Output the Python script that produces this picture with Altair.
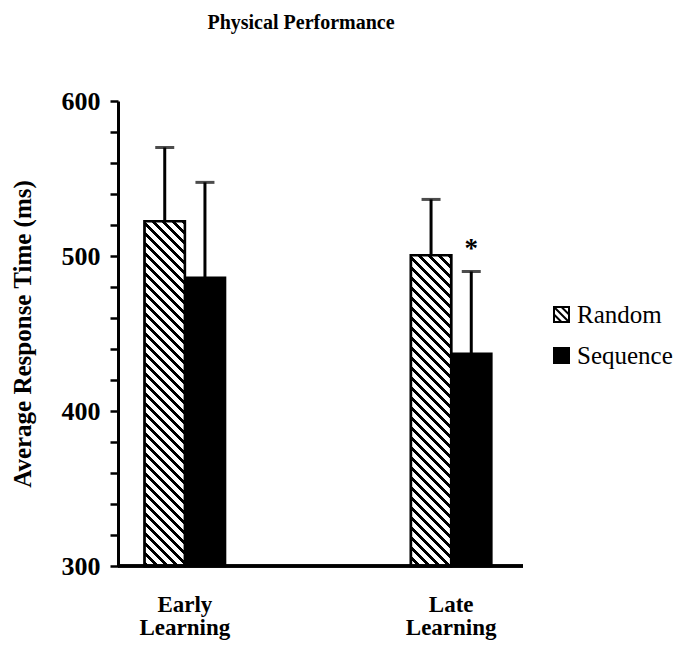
import altair as alt
import pandas as pd

# ---- data ----
PHASES = ["Early Learning", "Late Learning"]
CONDS = ["Random", "Sequence"]
phase = ["Early Learning", "Early Learning", "Late Learning", "Late Learning"]
cond = ["Random", "Sequence", "Random", "Sequence"]
mean_rt = [522.4, 486.0, 500.5, 437.0]
err_rt = [47.6, 61.5, 36.0, 53.0]
sig = ["", "", "", "*"]

Y_MIN, Y_MAX = 300, 600
Y_TICKS = list(range(300, 601, 20))

df = pd.DataFrame({"phase": phase, "cond": cond, "mean": mean_rt,
                   "err": err_rt, "sig": sig})

# ---- layout ----
PLOT_W, PLOT_H = 405, 465
X_RANGE = 400
PAD_IN, PAD_OUT = 0.698, 0.1
step = X_RANGE / (len(PHASES) - PAD_IN + 2 * PAD_OUT)
BAR_W = step * (1 - PAD_IN) / len(CONDS)
FONT = "Liberation Serif"
HATCH_D, HATCH_T = 10.0, 4.0


def hatch(h, w=BAR_W):
    """Linear gradient that renders as 45-degree '\\' stripes inside a w x h box."""
    total = w + h
    k = total / (w * w + h * h)
    stops = []
    j = 0
    while j * HATCH_D < total:
        a = j * HATCH_D / total
        b = min((j * HATCH_D + HATCH_T) / total, 1.0)
        c = min((j + 1) * HATCH_D / total, 1.0)
        stops += [alt.GradientStop(color="black", offset=a),
                  alt.GradientStop(color="black", offset=b),
                  alt.GradientStop(color="white", offset=b),
                  alt.GradientStop(color="white", offset=c)]
        j += 1
    return alt.LinearGradient(gradient="linear", stops=stops,
                              x1=1, y1=0, x2=1 - w * k, y2=h * k)


yscale = alt.Scale(domain=[Y_MIN, Y_MAX], nice=False, zero=False)
yaxis = alt.Axis(values=Y_TICKS, labelExpr="datum.value % 100 == 0 ? datum.label : ''",
                 title="Average Response Time (ms)", titleFont=FONT, titleFontSize=25,
                 titleFontWeight="bold", titleColor="black", titleX=-96, titleY=PLOT_H / 2,
                 titleAngle=270, titleAlign="center", titleBaseline="middle",
                 labelFont=FONT, labelFontSize=26, labelFontWeight="bold", labelColor="black",
                 labelPadding=10, labelOverlap=False, domainColor="black", domainWidth=3,
                 tickColor="black", tickWidth=2.5, tickSize=8, grid=False)

xenc = alt.X("phase:N", sort=PHASES,
             scale=alt.Scale(range=[0, X_RANGE], paddingInner=PAD_IN, paddingOuter=PAD_OUT),
             axis=alt.Axis(title=None, labelAngle=0, labelExpr="split(datum.label, ' ')",
                           domain=False, ticks=False, labelFont=FONT, labelFontSize=23,
                           labelFontWeight="bold", labelColor="black", labelLineHeight=23,
                           labelPadding=45, labelBaseline="alphabetic"))
xoff = alt.XOffset("cond:N", sort=CONDS, scale=alt.Scale(paddingInner=0, paddingOuter=0))

base = alt.Chart(df)

LEGEND_PATH = "M-1,-1H1V1H-1Z M-1,-1L1,1 M-1,0L0,1 M0,-1L1,0"

bars = base.mark_bar(stroke="black", strokeWidth=2.5).encode(
    x=xenc, xOffset=xoff,
    y=alt.Y("mean:Q", scale=yscale, axis=yaxis),
    y2=alt.Y2(datum=Y_MIN),
    color=alt.Color("cond:N", scale=alt.Scale(domain=CONDS, range=["white", "black"]),
                    legend=alt.Legend(title=None, orient="none", legendX=431, legendY=201,
                                      symbolType=LEGEND_PATH, symbolSize=225,
                                      symbolStrokeColor="black", symbolStrokeWidth=2,
                                      labelFont=FONT, labelFontSize=25, labelColor="black",
                                      labelOffset=3, rowPadding=15)),
)

hatch_layers = []
for p, c, m in zip(phase, cond, mean_rt):
    if c != "Random":
        continue
    h = (m - Y_MIN) / (Y_MAX - Y_MIN) * PLOT_H
    hatch_layers.append(
        base.transform_filter((alt.datum.phase == p) & (alt.datum.cond == c))
        .mark_bar(fill=hatch(h), stroke="black", strokeWidth=2.5)
        .encode(x=xenc, xOffset=xoff,
                y=alt.Y("mean:Q", scale=yscale, axis=yaxis),
                y2=alt.Y2(datum=Y_MIN))
    )

with_upper = base.transform_calculate(upper="datum.mean + datum.err")

stems = with_upper.mark_rule(color="black", strokeWidth=3).encode(
    x=xenc, xOffset=xoff,
    y=alt.Y("mean:Q", scale=yscale, axis=yaxis),
    y2="upper:Q",
)
caps = with_upper.mark_tick(color="black", thickness=3, size=19).encode(
    x=xenc, xOffset=xoff,
    y=alt.Y("upper:Q", scale=yscale, axis=yaxis),
)
stars = with_upper.mark_text(font=FONT, fontSize=27, fontWeight="bold", color="black",
                             dy=-15, baseline="alphabetic").encode(
    x=xenc, xOffset=xoff,
    y=alt.Y("upper:Q", scale=yscale, axis=yaxis),
    text="sig:N",
)
baseline = base.mark_rule(color="black", strokeWidth=3).encode(
    y=alt.Y(datum=Y_MIN, scale=yscale, axis=yaxis),
)

chart = alt.layer(bars, *hatch_layers, stems, caps, stars, baseline).properties(
    width=PLOT_W, height=PLOT_H,
    background="white",
    title=alt.TitleParams("Physical Performance", font=FONT, fontSize=20,
                          fontWeight="bold", color="black", anchor="middle",
                          dx=-19.5, offset=55),
    autosize=alt.AutoSizeParams(type="none"),
    padding={"left": 118, "top": 101, "right": 688 - 118 - PLOT_W,
             "bottom": 652 - 101 - PLOT_H},
).configure_view(stroke=None)

chart.save("out.html", embed_options={"renderer": "svg", "actions": False})
